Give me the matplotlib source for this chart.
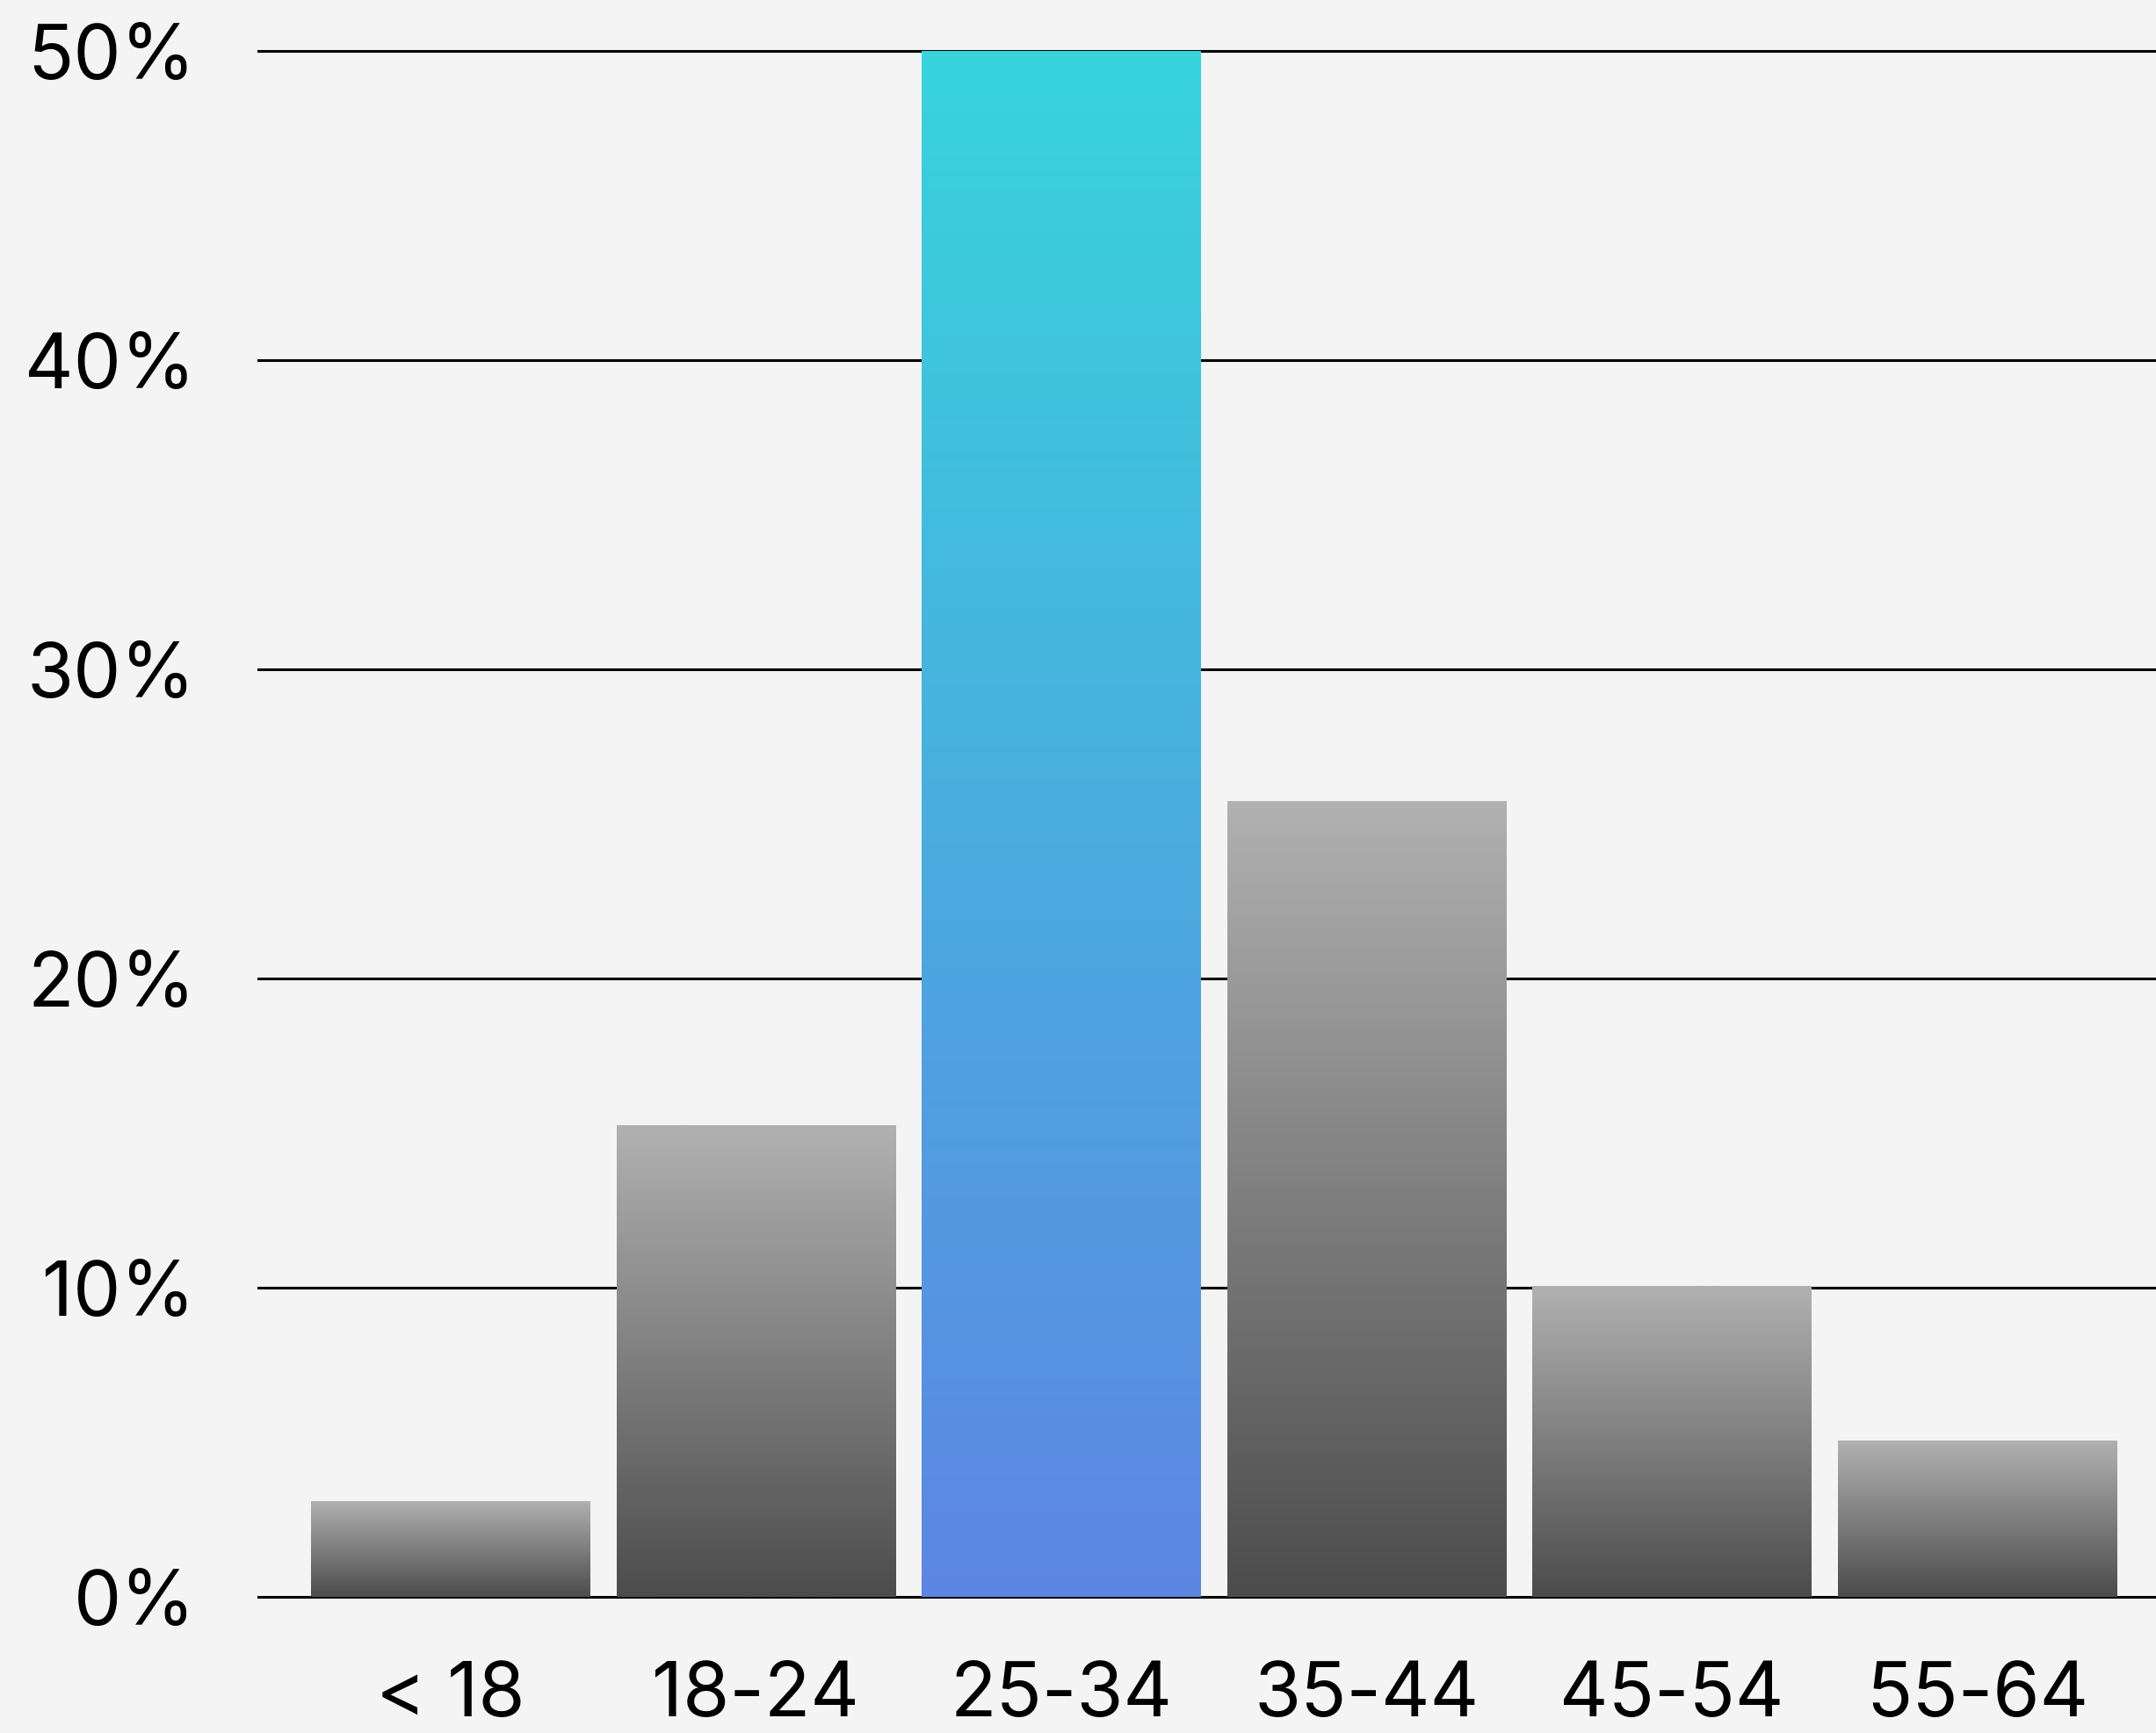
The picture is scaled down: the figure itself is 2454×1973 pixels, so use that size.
import numpy as np
import matplotlib
matplotlib.use("Agg")
import matplotlib.pyplot as plt
from matplotlib.colors import LinearSegmentedColormap

# data
age_groups = ["< 18", "18-24", "25-34", "35-44", "45-54", "55-64"]
share = [3.1, 15.25, 50.0, 25.75, 10.05, 5.05]
highlight = "25-34"
y_ticks = [0, 10, 20, 30, 40, 50]

plt.rcParams['font.family'] = ['Inter', 'DejaVu Sans']

bg = "#f4f4f4"
gray_cmap = LinearSegmentedColormap.from_list("gray", ["#4c4c4c", "#b1b1b1"])
blue_cmap = LinearSegmentedColormap.from_list("blue", ["#5d86e3", "#37d4dc"])

fig = plt.figure(figsize=(24.54, 19.73), dpi=100, facecolor=bg)
ax = fig.add_axes([0.1194, 0.0696, 0.8806, 0.9188])
ax.set_facecolor(bg)

x = np.arange(len(age_groups))
bars = ax.bar(x, share, width=0.914, facecolor="none", edgecolor="none", zorder=2)

# gradient fill for each bar, dark at the bottom, light at the top
grad = np.linspace(0, 1, 256).reshape(-1, 1)
for rect, name in zip(bars, age_groups):
    x0, y0 = rect.get_x(), rect.get_y()
    w, h = rect.get_width(), rect.get_height()
    cmap = blue_cmap if name == highlight else gray_cmap
    im = ax.imshow(grad, cmap=cmap, origin="lower", aspect="auto",
                   extent=[x0, x0 + w, y0, y0 + h], zorder=2)
    im.set_clip_path(rect)

ax.set_xlim(-0.633, len(age_groups) - 1 + 0.586)
ax.set_ylim(-0.5, 51)

for t in y_ticks:
    ax.axhline(t, color="black", lw=2.2, zorder=1)

ax.set_yticks(y_ticks)
ax.set_yticklabels([f"{t}%" for t in y_ticks])
ax.set_xticks(x)
ax.set_xticklabels(age_groups)
ax.tick_params(axis="both", length=0, labelsize=62, colors="black")
ax.tick_params(axis="y", pad=51)
ax.tick_params(axis="x", pad=40)
for s in ax.spines.values():
    s.set_visible(False)

fig.savefig("out.png", dpi=100, facecolor=bg)
